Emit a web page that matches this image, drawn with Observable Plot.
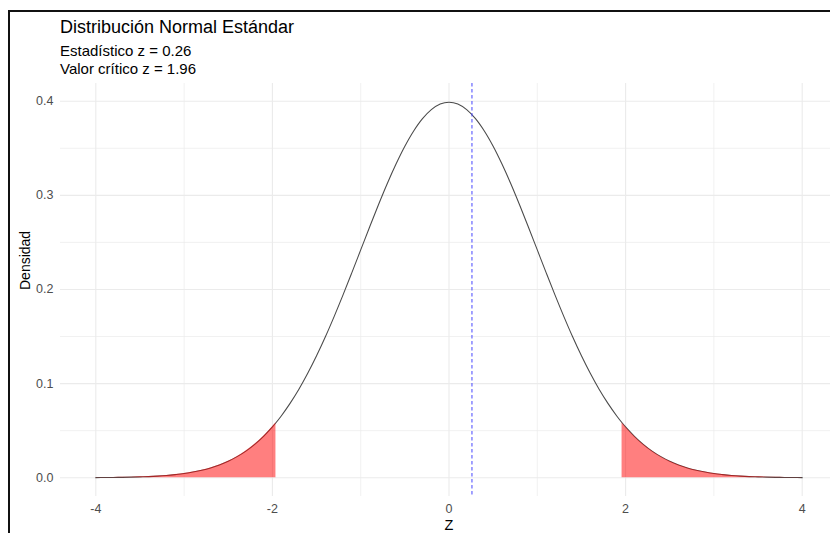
<!DOCTYPE html>
<html>
<head>
<meta charset="utf-8">
<script src="https://cdn.jsdelivr.net/npm/d3@7"></script>
<script src="https://cdn.jsdelivr.net/npm/@observablehq/plot@0.6"></script>
<style>
  html, body { margin: 0; padding: 0; background: #fff; width: 830px; height: 533px; overflow: hidden; }
  body { position: relative; font-family: "Liberation Sans", Arial, sans-serif; }
  #frame { position: absolute; left: 8px; top: 10px; width: 840px; height: 540px; border-top: 2px solid #111; border-left: 2px solid #111; pointer-events: none; z-index: 5; }
  #title { position: absolute; left: 60px; top: 18px; font-size: 18px; line-height: 18px; color: #000; white-space: nowrap; }
  #subtitle { position: absolute; left: 60px; top: 42px; font-size: 15px; line-height: 18px; color: #000; white-space: nowrap; }
  #chart { position: absolute; left: 0; top: 80px; width: 840px; }
  #chart svg { max-width: none !important; }
</style>
</head>
<body>
<div id="frame"></div>
<div id="title">Distribución Normal Estándar</div>
<div id="subtitle">Estadístico z = 0.26<br>Valor crítico z = 1.96</div>
<div id="chart"></div>
<script>
// z grid and density values
const zValues = [
  -4.0, -3.9, -3.8, -3.7, -3.6, -3.5, -3.4, -3.3, -3.2, -3.1,
  -3.0, -2.9, -2.8, -2.7, -2.6, -2.5, -2.4, -2.3, -2.2, -2.1,
  -2.0, -1.96, -1.9, -1.8, -1.7, -1.6, -1.5, -1.4, -1.3, -1.2, -1.1,
  -1.0, -0.9, -0.8, -0.7, -0.6, -0.5, -0.4, -0.3, -0.2, -0.1,
  0.0,
  0.1, 0.2, 0.3, 0.4, 0.5, 0.6, 0.7, 0.8, 0.9, 1.0,
  1.1, 1.2, 1.3, 1.4, 1.5, 1.6, 1.7, 1.8, 1.9, 1.96, 2.0,
  2.1, 2.2, 2.3, 2.4, 2.5, 2.6, 2.7, 2.8, 2.9, 3.0,
  3.1, 3.2, 3.3, 3.4, 3.5, 3.6, 3.7, 3.8, 3.9, 4.0
];
const densityValues = [
  0.0001, 0.0002, 0.0003, 0.0004, 0.0006, 0.0009, 0.0012, 0.0017, 0.0024, 0.0033,
  0.0044, 0.0060, 0.0079, 0.0104, 0.0136, 0.0175, 0.0224, 0.0283, 0.0355, 0.0440,
  0.0540, 0.0584, 0.0656, 0.0790, 0.0940, 0.1109, 0.1295, 0.1497, 0.1714, 0.1942, 0.2179,
  0.2420, 0.2661, 0.2897, 0.3123, 0.3332, 0.3521, 0.3683, 0.3814, 0.3910, 0.3970,
  0.3989,
  0.3970, 0.3910, 0.3814, 0.3683, 0.3521, 0.3332, 0.3123, 0.2897, 0.2661, 0.2420,
  0.2179, 0.1942, 0.1714, 0.1497, 0.1295, 0.1109, 0.0940, 0.0790, 0.0656, 0.0584, 0.0540,
  0.0440, 0.0355, 0.0283, 0.0224, 0.0175, 0.0136, 0.0104, 0.0079, 0.0060, 0.0044,
  0.0033, 0.0024, 0.0017, 0.0012, 0.0009, 0.0006, 0.0004, 0.0003, 0.0002, 0.0001
];
const zStatistic = [0.26];
const zCritical = [1.96];
const xMajorTicks = [-4, -2, 0, 2, 4];
const xMinorTicks = [-3, -1, 1, 3];
const yMajorTicks = [0.0, 0.1, 0.2, 0.3, 0.4];
const yMinorTicks = [0.05, 0.15, 0.25, 0.35];

const curve = zValues.map((z, i) => ({z, d: densityValues[i]}));
const crit = zCritical[0];
const leftTail = curve.filter(p => p.z <= -crit);
const rightTail = curve.filter(p => p.z >= crit);

const font = "'Liberation Sans', Arial, sans-serif";
const gridColor = "#ebebeb";

const chart = Plot.plot({
  width: 840,
  height: 453,
  marginTop: 3,
  marginBottom: 37,
  marginLeft: 60,
  marginRight: 3,
  style: {fontFamily: font, background: "transparent", overflow: "visible", maxWidth: "none"},
  x: {domain: [-4.4, 4.4]},
  y: {domain: [-0.01995, 0.4188]},
  marks: [
    Plot.gridY(yMinorTicks, {stroke: gridColor, strokeOpacity: 1, strokeWidth: 0.7}),
    Plot.gridX(xMinorTicks, {stroke: gridColor, strokeOpacity: 1, strokeWidth: 0.7}),
    Plot.gridY(yMajorTicks, {stroke: gridColor, strokeOpacity: 1, strokeWidth: 1.1}),
    Plot.gridX(xMajorTicks, {stroke: gridColor, strokeOpacity: 1, strokeWidth: 1.1}),
    Plot.axisX(xMajorTicks, {tickSize: 0, tickPadding: 8, label: null, fontSize: 12.5, fill: "#4d4d4d", tickFormat: d => String(d)}),
    Plot.axisY(yMajorTicks, {tickSize: 0, tickPadding: 7, label: null, fontSize: 12.5, fill: "#4d4d4d", tickFormat: d3.format(".1f")}),
    Plot.lineY(curve, {x: "z", y: "d", stroke: "#4a4a4a", strokeWidth: 1.07, curve: "catmull-rom"}),
    Plot.areaY(leftTail, {x: "z", y: "d", fill: "red", fillOpacity: 0.5, curve: "catmull-rom"}),
    Plot.areaY(rightTail, {x: "z", y: "d", fill: "red", fillOpacity: 0.5, curve: "catmull-rom"}),
    Plot.ruleX(zStatistic, {stroke: "#4646ff", strokeWidth: 1, strokeDasharray: "3.5,2.5"}),
    Plot.text(["Densidad"], {frameAnchor: "left", dx: -35, rotate: -90, fontSize: 14, fill: "#000", text: d => d}),
    Plot.text(["Z"], {frameAnchor: "bottom", dy: 33, fontSize: 14.5, fill: "#000", text: d => d})
  ]
});
document.getElementById("chart").appendChild(chart);
</script>
</body>
</html>
